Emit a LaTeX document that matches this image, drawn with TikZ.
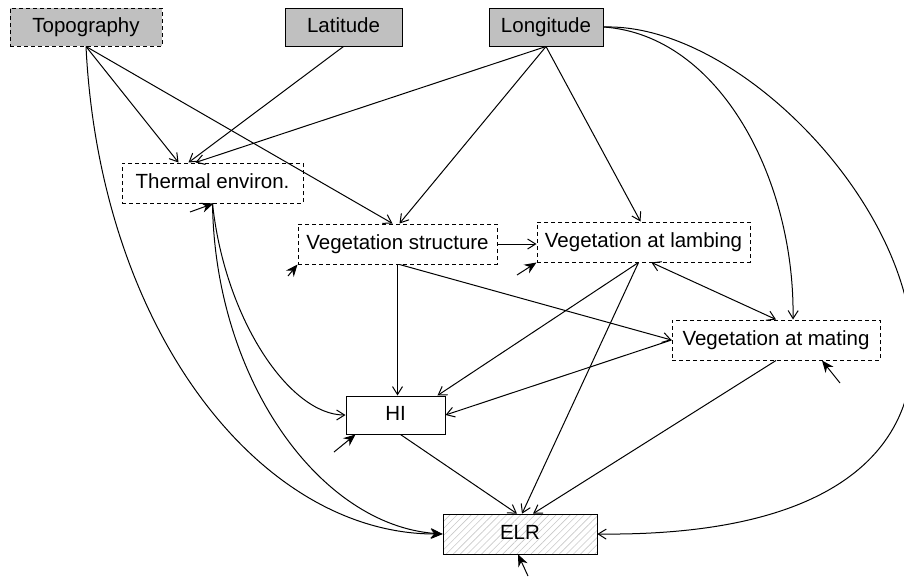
\documentclass[tikz,border=0pt]{standalone}
\usepackage{fontspec}
\setmainfont{Liberation Sans}
\usetikzlibrary{arrows.meta,patterns.meta}

\definecolor{fig-color-exo}{RGB}{192, 192, 192}
\definecolor{fig-color-hatch}{RGB}{200, 200, 200}

\begin{document}
\begin{tikzpicture}[x=1pt,y=-1pt,line width=1pt,
    every node/.style={font=\fontsize{20.5}{24}\selectfont,text height=15pt,text depth=4pt,
      minimum height=38pt,inner sep=0pt},
    exobox/.style={draw,fill=fig-color-exo},
    latbox/.style={draw,dash pattern=on 4pt off 3pt},
    obsbox/.style={draw},
    link/.style={-{Straight Barb[length=8pt,width=10pt]}},
    twolink/.style={{Straight Barb[length=8pt,width=10pt]}-{Straight Barb[length=8pt,width=10pt]}},
    err/.style={-{Stealth[length=12pt,width=10pt]}}]
    \useasboundingbox (0,0) rectangle (904,576);

    \node[exobox,latbox,minimum width=152pt] (topo) at (86,27) {Topography};
    \node[exobox,minimum width=117pt] (lati) at (343.5,27) {Latitude};
    \node[exobox,minimum width=114pt] (longi) at (546,27) {Longitude};

    \node[latbox,minimum width=181pt,minimum height=40pt] (therm) at (212.5,183) {Thermal environ.};
    \node[latbox,minimum width=199pt,minimum height=40pt] (vstruct) at (397.5,244) {Vegetation structure};
    \node[latbox,minimum width=213pt,minimum height=40pt] (vlamb) at (643.5,242) {Vegetation at lambing};
    \node[latbox,minimum width=208pt,minimum height=40pt] (vmate) at (776,340) {Vegetation at mating};

    \node[obsbox,minimum width=99pt] (hi) at (395.5,415) {HI};
    \node[obsbox,minimum width=154pt,minimum height=40pt,
      pattern={Lines[angle=45,distance=5pt,line width=0.6pt]},pattern color=fig-color-hatch] (elr) at (520,534) {ELR};

    \draw[link] (topo.south) -- ([xshift=-34pt]therm.north);
    \draw[link] (lati.south) -- ([xshift=-24pt]therm.north);
    \draw[link] (longi.south) -- ([xshift=-17pt]therm.north);
    \draw[link] (topo.south) -- ([xshift=-5pt]vstruct.north);
    \draw[link] (longi.south) -- ([xshift=2pt]vstruct.north);
    \draw[link] (longi.south) -- ([xshift=-3pt]vlamb.north);
    \draw[link] (longi.east) .. controls (720,35) and (795,180) .. ([xshift=17pt]vmate.north);
    \draw[link] (longi.east) .. controls (830,20) and (1170,540) .. (elr.east);

    \draw[err] (topo.south) .. controls (100,330) and (260,534) .. (elr.west);
    \draw[err] (therm.south) .. controls (215,380) and (320,525) .. (elr.west);
    \draw[link] (therm.south) .. controls (225,320) and (290,415) .. (hi.west);

    \draw[link] (vstruct.east) -- (vstruct.east -| vlamb.west);
    \draw[link] (vstruct.south) -- (vstruct.south |- hi.north);
    \draw[link] ([xshift=2pt]vstruct.south) -- (vmate.west);
    \draw[link] (vmate.west) -- (hi.east);
    \draw[link] ([xshift=-5pt]vlamb.south) -- ([xshift=42pt]hi.north);
    \draw[link] ([xshift=-5pt]vlamb.south) -- ([xshift=2pt]elr.north);
    \draw[twolink] ([xshift=8pt]vlamb.south) -- (vmate.north);
    \draw[link] (vmate.south) -- ([xshift=13pt]elr.north);
    \draw[link] ([xshift=5pt]hi.south) -- ([xshift=-3pt]elr.north);

    \coordinate (e-therm) at (190,212);
    \coordinate (e-vstruct) at (288,276);
    \coordinate (e-vlamb) at (517,275);
    \coordinate (e-vmate) at (840,383);
    \coordinate (e-hi) at (334,452);
    \coordinate (e-elr) at (528,576);
    \draw[err] (e-therm) -- ([xshift=1pt]therm.south);
    \draw[err] (e-vstruct) -- (vstruct.south west);
    \draw[err] (e-vlamb) -- (vlamb.south west);
    \draw[err] (e-vmate) -- ([xshift=46pt]vmate.south);
    \draw[err] (e-hi) -- ([xshift=10pt]hi.south west);
    \draw[err] (e-elr) -- ([xshift=-2pt]elr.south);
\end{tikzpicture}
\end{document}
